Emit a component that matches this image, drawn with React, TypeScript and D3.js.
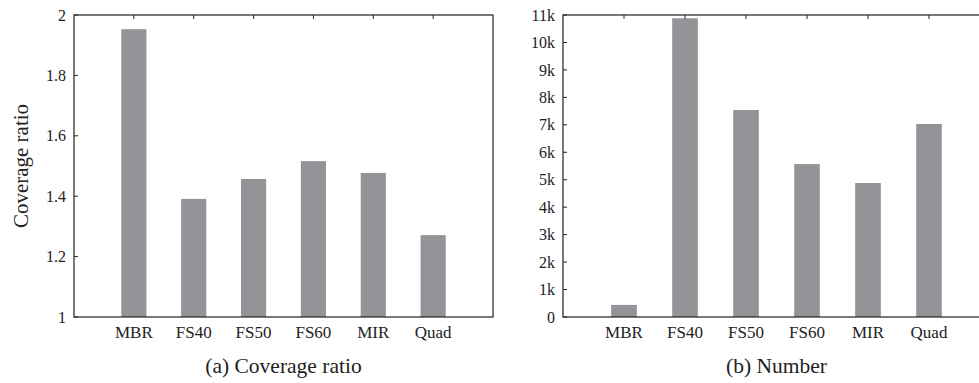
import React from "react";
import * as d3 from "d3";

const categories = ["MBR", "FS40", "FS50", "FS60", "MIR", "Quad"];
const coverageValues = [1.953, 1.391, 1.457, 1.516, 1.477, 1.271];
const numberValues = [440, 10880, 7540, 5570, 4880, 7030];
const coverageTicks = [1, 1.2, 1.4, 1.6, 1.8, 2];
const numberTicks = [0, 1000, 2000, 3000, 4000, 5000, 6000, 7000, 8000, 9000, 10000, 11000];
const numberTickLabels = ["0", "1k", "2k", "3k", "4k", "5k", "6k", "7k", "8k", "9k", "10k", "11k"];

const FONT = "'Liberation Serif', 'Times New Roman', serif";
const BAR = "#939498";
const AXIS = "#222";

type PanelProps = {
  x0: number;
  x1: number;
  top: number;
  bottom: number;
  values: number[];
  domain: [number, number];
  ticks: number[];
  tickLabels: string[];
  caption: string;
  yLabel?: string;
};

function Panel(p: PanelProps) {
  const x = d3.scaleLinear().domain([0, categories.length + 1]).range([p.x0, p.x1]);
  const y = d3.scaleLinear().domain(p.domain).range([p.bottom, p.top]);
  const bw = (x(1) - x(0)) * 0.42;
  return (
    <g>
      {p.values.map((v, i) => (
        <rect
          key={i}
          x={x(i + 1) - bw / 2}
          y={y(v)}
          width={bw}
          height={y(p.domain[0]) - y(v)}
          fill={BAR}
        />
      ))}
      <rect
        x={p.x0}
        y={p.top}
        width={p.x1 - p.x0}
        height={p.bottom - p.top}
        fill="none"
        stroke={AXIS}
        strokeWidth={1.2}
      />
      {p.ticks.map((t, i) => (
        <g key={i}>
          <line x1={p.x0} x2={p.x0 + 4} y1={y(t)} y2={y(t)} stroke={AXIS} strokeWidth={1} />
          <text
            x={p.x0 - 8}
            y={y(t)}
            dy="0.35em"
            textAnchor="end"
            fontFamily={FONT}
            fontSize={16}
            fill="#222"
          >
            {p.tickLabels[i]}
          </text>
        </g>
      ))}
      {categories.map((c, i) => (
        <g key={c}>
          <line x1={x(i + 1)} x2={x(i + 1)} y1={p.top} y2={p.top + 4} stroke={AXIS} strokeWidth={1} />
          <text
            x={x(i + 1)}
            y={338}
            textAnchor="middle"
            fontFamily={FONT}
            fontSize={17}
            fill="#222"
          >
            {c}
          </text>
        </g>
      ))}
      <text
        x={(p.x0 + p.x1) / 2}
        y={373}
        textAnchor="middle"
        fontFamily={FONT}
        fontSize={21.5}
        fill="#222"
      >
        {p.caption}
      </text>
      {p.yLabel && (
        <text
          transform={`translate(28, ${(p.top + p.bottom) / 2}) rotate(-90)`}
          textAnchor="middle"
          fontFamily={FONT}
          fontSize={21}
          fill="#222"
        >
          {p.yLabel}
        </text>
      )}
    </g>
  );
}

export default function App() {
  return (
    <div style={{ position: "absolute", left: 0, top: 0 }}>
      <svg width={979} height={383} style={{ display: "block", background: "#fff" }}>
        <Panel
          x0={74}
          x1={493}
          top={15}
          bottom={317}
          values={coverageValues}
          domain={[1, 2]}
          ticks={coverageTicks}
          tickLabels={coverageTicks.map((t) => d3.format("~g")(t))}
          caption="(a) Coverage ratio"
          yLabel="Coverage ratio"
        />
        <Panel
          x0={563}
          x1={990}
          top={15}
          bottom={317}
          values={numberValues}
          domain={[0, 11000]}
          ticks={numberTicks}
          tickLabels={numberTickLabels}
          caption="(b) Number"
        />
      </svg>
    </div>
  );
}
